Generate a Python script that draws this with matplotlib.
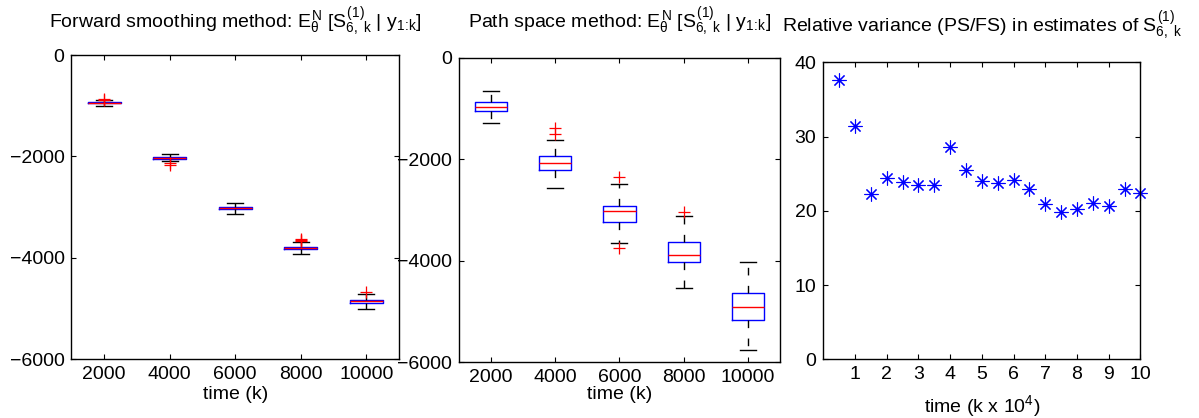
import matplotlib
matplotlib.use("Agg")
import matplotlib.pyplot as plt

plt.rcParams["font.family"] = ["Liberation Sans", "DejaVu Sans"]
plt.rcParams["mathtext.fontset"] = "custom"
plt.rcParams["mathtext.rm"] = "Liberation Sans"
plt.rcParams["mathtext.it"] = "Liberation Sans"
plt.rcParams["mathtext.bf"] = "Liberation Sans:bold"
plt.rcParams["mathtext.sf"] = "Liberation Sans"

# === Data ===
time_labels = ["2000", "4000", "6000", "8000", "10000"]

# forward smoothing (FS) box statistics
fs_med = [-940, -2033, -3023, -3803, -4852]
fs_q1 = [-955, -2048, -3040, -3820, -4880]
fs_q3 = [-925, -2015, -3005, -3782, -4825]
fs_whislo = [-1003, -2098, -3133, -3921, -4996]
fs_whishi = [-885, -1953, -2925, -3692, -4708]
fs_fliers = [[-870, -880], [-2130, -2165], [], [-3625, -3645, -3665], [-4668]]

# path space (PS) box statistics
ps_med = [-965, -2067, -3025, -3879, -4909]
ps_q1 = [-1055, -2211, -3241, -4023, -5159]
ps_q3 = [-878, -1942, -2926, -3635, -4640]
ps_whislo = [-1292, -2560, -3643, -4535, -5755]
ps_whishi = [-656, -1614, -2493, -3117, -4029]
ps_fliers = [[], [-1390, -1502], [-2343, -3753], [-3038], []]

# relative variance PS/FS
time_k4 = [0.5, 1.0, 1.5, 2.0, 2.5, 3.0, 3.5, 4.0, 4.5, 5.0,
           5.5, 6.0, 6.5, 7.0, 7.5, 8.0, 8.5, 9.0, 9.5, 10.0]
rel_var = [37.6, 31.4, 22.2, 24.4, 23.9, 23.5, 23.5, 28.6, 25.5, 24.0,
           23.7, 24.1, 22.9, 20.9, 19.8, 20.2, 21.1, 20.6, 23.0, 22.4]

FS = 14


def make_stats(med, q1, q3, lo, hi, fl):
    return [dict(med=m, q1=a, q3=b, whislo=l, whishi=h, fliers=f)
            for m, a, b, l, h, f in zip(med, q1, q3, lo, hi, fl)]


def matlab_axes(ax):
    ax.tick_params(direction="in", top=True, right=True, length=3.5,
                   width=0.8, labelsize=FS, pad=5)
    for s in ax.spines.values():
        s.set_linewidth(1.0)


def draw_boxes(ax, stats):
    ax.bxp(stats, positions=range(1, 6), widths=0.5,
           boxprops=dict(color="blue", linewidth=1.0),
           medianprops=dict(color="red", linewidth=1.0),
           whiskerprops=dict(color="black", linewidth=1.0,
                             linestyle=(0, (5.5, 7.5))),
           capprops=dict(color="black", linewidth=1.0),
           flierprops=dict(marker="+", markeredgecolor="red",
                           markersize=9, markeredgewidth=0.9,
                           linestyle="none"),
           capwidths=0.25)
    ax.set_xlim(0.5, 5.5)
    ax.set_ylim(-6000, 0)
    ax.set_yticks([0, -2000, -4000, -6000])
    ax.set_xticks(range(1, 6))
    ax.set_xticklabels(time_labels)
    matlab_axes(ax)


fig = plt.figure(figsize=(11.99, 4.18), dpi=100)
ax1 = fig.add_axes([0.0596, 0.1400, 0.2732, 0.7284])
ax2 = fig.add_axes([0.3828, 0.1328, 0.2677, 0.7292])
ax3 = fig.add_axes([0.6867, 0.1404, 0.2644, 0.7105])

cond = r"$E_{\theta}^{N}\ [S_{6,\ k}^{(1)}\ |\ y_{1\!:\!k}]$"

# === Forward smoothing ===
draw_boxes(ax1, make_stats(fs_med, fs_q1, fs_q3, fs_whislo, fs_whishi, fs_fliers))
ax1.set_xlabel("time (k)", fontsize=FS)
ax1.xaxis.set_label_coords(0.5, -0.086)
ax1.text(0.5, 1.088, "Forward smoothing method: " + cond,
         transform=ax1.transAxes, ha="center", va="baseline", fontsize=FS)

# === Path space ===
draw_boxes(ax2, make_stats(ps_med, ps_q1, ps_q3, ps_whislo, ps_whishi, ps_fliers))
ax2.set_xlabel("time (k)", fontsize=FS)
ax2.xaxis.set_label_coords(0.5, -0.078)
ax2.text(0.5, 1.096, "Path space method: " + cond,
         transform=ax2.transAxes, ha="center", va="baseline", fontsize=FS)

# === Relative variance ===
ax3.plot(time_k4, rel_var, linestyle="none", marker=(8, 2, 0),
         markersize=10, markeredgecolor="blue", markeredgewidth=0.8,
         clip_on=False)
ax3.set_xlim(0, 10)
ax3.set_ylim(0, 40)
ax3.set_xticks(range(1, 11))
ax3.set_yticks([0, 10, 20, 30, 40])
matlab_axes(ax3)
ax3.set_xlabel(r"time (k x $10^{4}$)", fontsize=FS)
ax3.xaxis.set_label_coords(0.5, -0.115)
ax3.text(0.5, 1.103,
         r"Relative variance (PS/FS) in estimates of $S_{6,\ k}^{(1)}$",
         transform=ax3.transAxes, ha="center", va="baseline", fontsize=FS)

fig.savefig("out.png", dpi=100)
